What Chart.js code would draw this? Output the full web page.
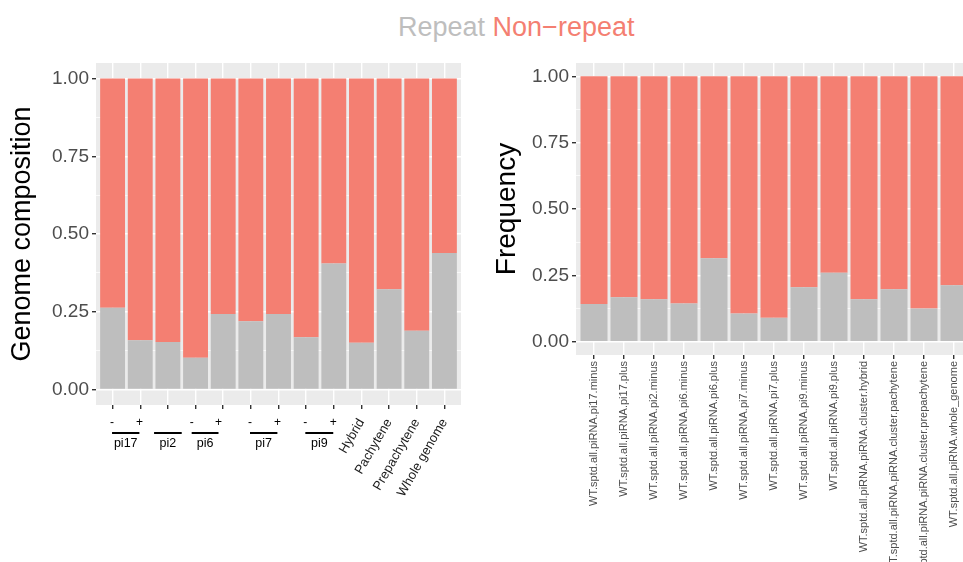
<!DOCTYPE html>
<html>
<head>
<meta charset="utf-8">
<script src="https://cdn.jsdelivr.net/npm/chart.js@4/dist/chart.umd.min.js"></script>
<style>
  html, body { margin: 0; padding: 0; background: #ffffff; overflow: hidden; width: 963px; height: 562px; }
  #wrap { position: relative; width: 963px; height: 562px; overflow: hidden; }
  #legend { position: absolute; left: 398px; top: 12px; font: 27px "Liberation Sans", Arial, sans-serif; white-space: nowrap; }
  #legend .rep { color: #BEBEBE; }
  #legend .non { color: #F47F72; }
  #left { position: absolute; left: 0; top: 0; }
  #right { position: absolute; left: 470px; top: 0; }
</style>
</head>
<body>
<div id="wrap">
  <div id="legend"><span class="rep">Repeat</span> <span class="non">Non−repeat</span></div>
  <canvas id="left" width="470" height="562"></canvas>
  <canvas id="right" width="510" height="562"></canvas>
</div>
<script>
// ---- data ----
const categories = ['pi17.minus', 'pi17.plus', 'pi2.minus', 'pi6.minus', 'pi6.plus', 'pi7.minus', 'pi7.plus',
  'pi9.minus', 'pi9.plus', 'hybrid', 'pachytene', 'prepachytene', 'whole genome'];

const leftRepeat    = [0.263, 0.158, 0.153, 0.102, 0.243, 0.219, 0.243, 0.168, 0.405, 0.150, 0.322, 0.189, 0.439];
const leftNonRepeat = [0.737, 0.842, 0.847, 0.898, 0.757, 0.781, 0.757, 0.832, 0.595, 0.850, 0.678, 0.811, 0.561];

const rightRepeat    = [0.142, 0.168, 0.160, 0.144, 0.314, 0.106, 0.090, 0.205, 0.260, 0.160, 0.198, 0.125, 0.213];
const rightNonRepeat = [0.858, 0.832, 0.840, 0.856, 0.686, 0.894, 0.910, 0.795, 0.740, 0.840, 0.802, 0.875, 0.787];

const leftTickLabels = ['', '', '', '', '', '', '', '', '', 'Hybrid', 'Pachytene', 'Prepachytene', 'Whole genome'];
const rightTickLabels = [
  'WT.sptd.all.piRNA.pi17.minus', 'WT.sptd.all.piRNA.pi17.plus', 'WT.sptd.all.piRNA.pi2.minus',
  'WT.sptd.all.piRNA.pi6.minus', 'WT.sptd.all.piRNA.pi6.plus', 'WT.sptd.all.piRNA.pi7.minus',
  'WT.sptd.all.piRNA.pi7.plus', 'WT.sptd.all.piRNA.pi9.minus', 'WT.sptd.all.piRNA.pi9.plus',
  'WT.sptd.all.piRNA.piRNA.cluster.hybrid', 'WT.sptd.all.piRNA.piRNA.cluster.pachytene',
  'WT.sptd.all.piRNA.piRNA.cluster.prepachytene', 'WT.sptd.all.piRNA.whole_genome'];

const yMajorTicks = [0, 0.25, 0.5, 0.75, 1];

// strand / cluster group annotations under the left panel (x in category units)
const groupNames  = ['pi17', 'pi2', 'pi6', 'pi7', 'pi9'];
const groupFrom   = [0.98, 2.50, 3.86, 5.97, 7.97];
const groupTo     = [1.97, 3.50, 4.83, 6.96, 8.98];
const groupStrand = [true, false, true, true, true];

// ---- styling ----
const FONT = '"Liberation Sans", Arial, Helvetica, sans-serif';
const GREY = '#BEBEBE';
const SALMON = '#F47F72';
const AXIS_TEXT = '#4D4D4D';

const yTickValues = [];
yMajorTicks.forEach((v, i) => {
  yTickValues.push({ value: v, major: true });
  if (i < yMajorTicks.length - 1) yTickValues.push({ value: (v + yMajorTicks[i + 1]) / 2, major: false });
});

const panelBg = {
  id: 'panelBg',
  beforeDraw(chart) {
    const { ctx, chartArea: a } = chart;
    ctx.save();
    ctx.fillStyle = '#EBEBEB';
    ctx.fillRect(a.left, a.top, a.right - a.left, a.bottom - a.top);
    ctx.restore();
  }
};

const groupMarks = {
  id: 'groupMarks',
  afterDraw(chart) {
    const { ctx, chartArea: a } = chart;
    const xs = chart.scales.x;
    ctx.save();
    ctx.fillStyle = '#000';
    ctx.strokeStyle = '#000';
    ctx.lineWidth = 2;
    ctx.textAlign = 'center';
    groupNames.forEach((name, i) => {
      const x1 = xs.getPixelForValue(groupFrom[i]);
      const x2 = xs.getPixelForValue(groupTo[i]);
      ctx.beginPath();
      ctx.moveTo(x1, a.bottom + 28);
      ctx.lineTo(x2, a.bottom + 28);
      ctx.stroke();
      if (groupStrand[i]) {
        ctx.font = '12px ' + FONT;
        ctx.textBaseline = 'middle';
        ctx.fillText('-', x1, a.bottom + 18);
        ctx.fillText('+', x2, a.bottom + 18);
      }
      ctx.font = '12.5px ' + FONT;
      ctx.textBaseline = 'alphabetic';
      ctx.fillText(name, (x1 + x2) / 2, a.bottom + 42);
    });
    ctx.restore();
  }
};

function makeChart(id, repeat, nonRepeat, opts) {
  const n = repeat.length;
  return new Chart(document.getElementById(id), {
    type: 'bar',
    data: {
      datasets: [
        { label: 'Repeat', data: repeat.map((v, i) => ({ x: i + 1, y: v })), backgroundColor: GREY },
        { label: 'Non-repeat', data: nonRepeat.map((v, i) => ({ x: i + 1, y: v })), backgroundColor: SALMON }
      ]
    },
    options: {
      responsive: false,
      animation: false,
      devicePixelRatio: 1,
      datasets: { bar: { barPercentage: 0.9, categoryPercentage: 1, borderWidth: 0 } },
      layout: { padding: { top: 63, right: opts.padRight, left: 0, bottom: 0 } },
      plugins: { legend: { display: false }, tooltip: { enabled: false } },
      scales: {
        x: {
          type: 'linear',
          stacked: true,
          offset: false,
          min: 0.4,
          max: n + 0.6,
          afterBuildTicks(s) { s.ticks = repeat.map((_, i) => ({ value: i + 1 })); },
          afterFit(s) { s.height = opts.xHeight; },
          grid: { offset: false, color: '#FFFFFF', lineWidth: 1.4, drawTicks: true, tickLength: 4, tickColor: '#333333', tickWidth: 1.4 },
          border: { display: false },
          ticks: {
            autoSkip: false,
            minRotation: opts.rotation,
            maxRotation: opts.rotation,
            padding: opts.xPad,
            color: opts.xColor,
            font: { family: FONT, size: opts.xSize },
            callback: v => opts.xLabels[Math.round(v) - 1] || ''
          }
        },
        y: {
          type: 'linear',
          stacked: true,
          min: -0.05,
          max: 1.05,
          afterBuildTicks(s) { s.ticks = yTickValues.map(t => ({ value: t.value, major: t.major })); },
          afterFit(s) { s.width = opts.yWidth; },
          grid: {
            color: '#FFFFFF',
            lineWidth: c => (c.tick && c.tick.major ? 1.4 : 0.7),
            tickColor: c => (c.tick && c.tick.major ? '#333333' : 'rgba(0,0,0,0)'),
            tickLength: 4,
            tickWidth: 1.4
          },
          border: { display: false },
          ticks: {
            autoSkip: false,
            padding: 3,
            color: AXIS_TEXT,
            font: { family: FONT, size: 19 },
            callback: (v, i, ticks) => (ticks[i].major ? v.toFixed(2) : '')
          },
          title: {
            display: true,
            text: opts.yTitle,
            color: '#000000',
            font: { family: FONT, size: opts.titleSize },
            padding: { top: opts.titlePad, bottom: 0 }
          }
        }
      }
    },
    plugins: opts.plugins
  });
}

makeChart('left', leftRepeat, leftNonRepeat, {
  padRight: 9, xHeight: 157, yWidth: 96, rotation: 60, xPad: 7, xColor: '#1A1A1A', xSize: 13,
  xLabels: leftTickLabels, yTitle: 'Genome composition', titleSize: 27, titlePad: 6,
  plugins: [panelBg, groupMarks]
});

makeChart('right', rightRepeat, rightNonRepeat, {
  padRight: 8, xHeight: 207, yWidth: 106, rotation: 90, xPad: 2, xColor: AXIS_TEXT, xSize: 11,
  xLabels: rightTickLabels, yTitle: 'Frequency', titleSize: 28, titlePad: 20,
  plugins: [panelBg]
});
</script>
</body>
</html>
